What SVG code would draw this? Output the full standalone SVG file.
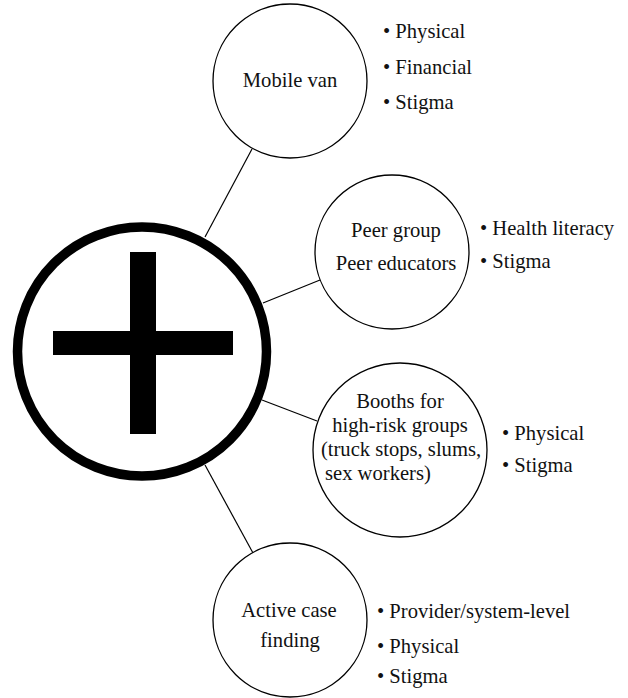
<svg xmlns="http://www.w3.org/2000/svg" width="628" height="698" viewBox="0 0 628 698">
<style>
.node{fill:#fff;stroke:#000;stroke-width:1.3}
.conn{stroke:#000;stroke-width:1.2;fill:none}
text{font-family:"Liberation Serif","Times New Roman",serif;font-size:20.6px;fill:#111}
.c{text-anchor:middle}
</style>
<rect width="628" height="698" fill="#fff"/>
<g id="connectors">
<line class="conn" x1="205" y1="237" x2="252" y2="149"/>
<line class="conn" x1="263" y1="303" x2="320" y2="280"/>
<line class="conn" x1="262" y1="400" x2="317" y2="421"/>
<line class="conn" x1="205" y1="465" x2="253" y2="553"/>
</g>
<g id="hub">
<circle cx="142" cy="351.5" r="124.5" fill="#fff" stroke="#000" stroke-width="9.5"/>
<rect x="130" y="252" width="26" height="182" fill="#000"/>
<rect x="53" y="331" width="180" height="24" fill="#000"/>
</g>
<g id="mobile-van">
<circle class="node" cx="290" cy="81" r="77"/>
<text class="c" x="290" y="87">Mobile van</text>
<text x="383" y="38">• Physical</text>
<text x="383" y="74">• Financial</text>
<text x="383" y="109">• Stigma</text>
</g>
<g id="peer-group">
<circle class="node" cx="392" cy="252" r="77"/>
<text class="c" x="396" y="237">Peer group</text>
<text class="c" x="396" y="270">Peer educators</text>
<text x="480" y="235">• Health literacy</text>
<text x="480" y="268">• Stigma</text>
</g>
<g id="booths">
<circle class="node" cx="400" cy="450" r="87"/>
<text class="c" x="400" y="408">Booths for</text>
<text class="c" x="400" y="432">high-risk groups</text>
<text class="c" x="401" y="456">(truck stops, slums,</text>
<text x="325" y="480">sex workers)</text>
<text x="502" y="440">• Physical</text>
<text x="502" y="472">• Stigma</text>
</g>
<g id="active-case-finding">
<circle class="node" cx="290" cy="620" r="77"/>
<text class="c" x="289" y="617">Active case</text>
<text class="c" x="290" y="647">finding</text>
<text x="377" y="618">• Provider/system-level</text>
<text x="377" y="653">• Physical</text>
<text x="377" y="683">• Stigma</text>
</g>
</svg>
